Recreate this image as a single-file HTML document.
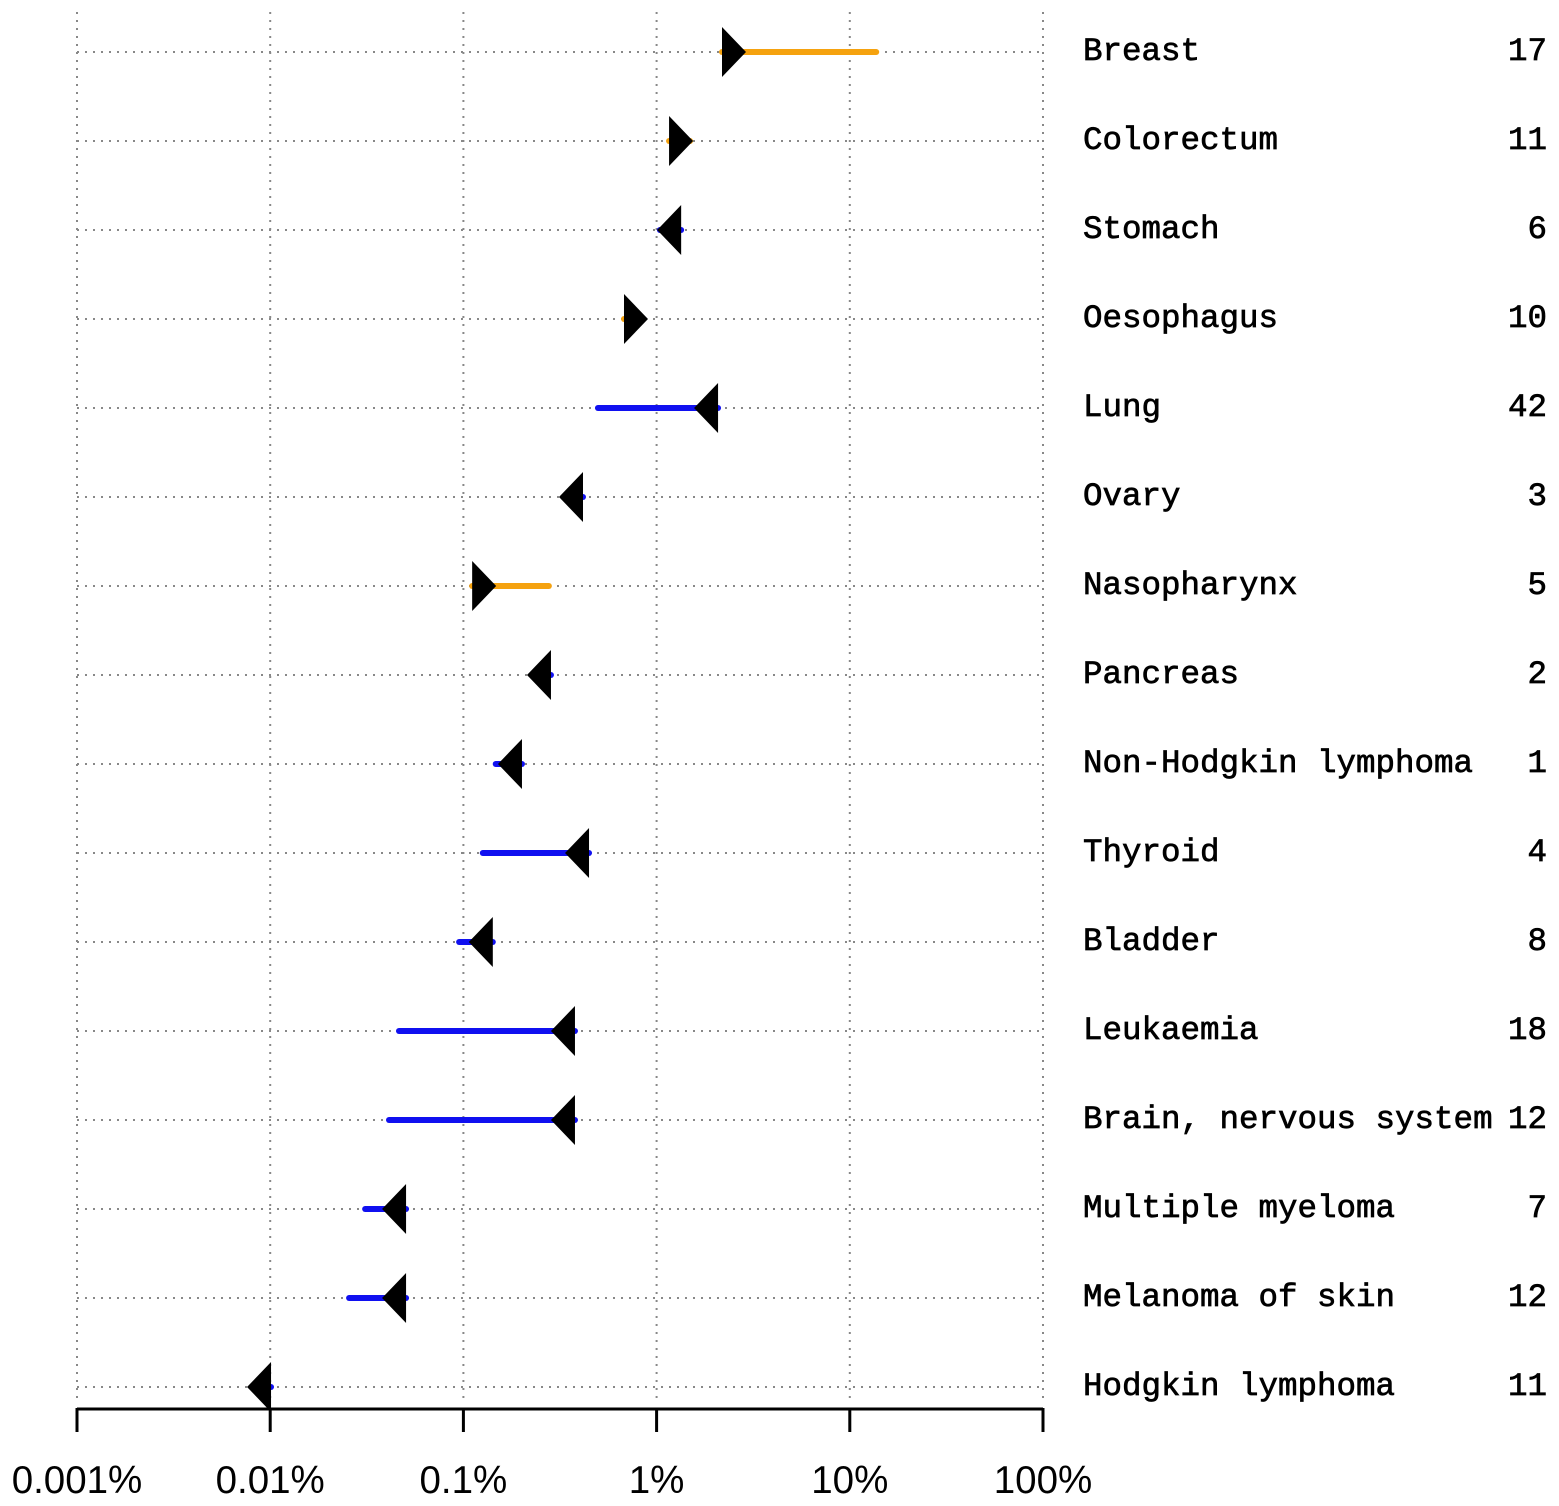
<!DOCTYPE html>
<html><head><meta charset="utf-8"><style>
html,body{margin:0;padding:0;background:#fff;}
svg{display:block;}
</style></head><body>
<svg id="chart" width="1559" height="1506" xmlns="http://www.w3.org/2000/svg"></svg>
<script>
const categories=["Breast","Colorectum","Stomach","Oesophagus","Lung","Ovary","Nasopharynx","Pancreas","Non-Hodgkin lymphoma","Thyroid","Bladder","Leukaemia","Brain, nervous system","Multiple myeloma","Melanoma of skin","Hodgkin lymphoma"];
const counts=["17","11","6","10","42","3","5","2","1","4","8","18","12","7","12","11"];
const markerValues=[2.18,1.16,1.34,0.678,2.08,0.416,0.111,0.284,0.201,0.447,0.142,0.378,0.378,0.0505,0.0505,0.0101];
const endValues=[13.7,1.49,1.04,0.82,0.497,0.356,0.277,0.249,0.147,0.126,0.095,0.0464,0.0412,0.031,0.0256,0.00886];
const tickValues=[0.001,0.01,0.1,1,10,100];
const tickLabels=["0.001%","0.01%","0.1%","1%","10%","100%"];

const NS="http://www.w3.org/2000/svg";
const svg=document.getElementById('chart');
const x0=77,dec=193.2;
function xs(v){return x0+(Math.log10(v)+3)*dec;}
function ys(i){return 52+i*89;}
function mk(tag,attrs,parent){const e=document.createElementNS(NS,tag);for(const k in attrs)e.setAttribute(k,attrs[k]);(parent||svg).appendChild(e);return e;}

tickValues.forEach((v,i)=>{
  const g=mk('line',{x1:xs(v),x2:xs(v),y1:12,y2:1400,stroke:'#888','stroke-width':2,'stroke-dasharray':'2,6'});
  
  
});
categories.forEach((c,i)=>{
  const y=ys(i);
  const g=mk('line',{x1:77,x2:1043,y1:y,y2:y,stroke:'#888','stroke-width':2,'stroke-dasharray':'2,6'});
  
  
  const a=xs(markerValues[i]),b=xs(endValues[i]);
  const up=endValues[i]>markerValues[i];
  const col=up?'#f5a20f':'#1010f0';
  const ln=mk('line',{x1:a,x2:b,y1:y,y2:y,stroke:col,'stroke-width':6,'stroke-linecap':'round'});
  
  
  const dir=up?1:-1;
  const tri=mk('polygon',{points:`${a},${y-25} ${a},${y+25} ${a+dir*24},${y}`,fill:'#000'});
  
  
  const t=mk('text',{x:1083,y:y+8,'font-family':'Liberation Mono, monospace','font-size':32.5,fill:'#000',stroke:'#000','stroke-width':0.7});
  t.textContent=c;
  
  
  const n=mk('text',{x:1547,y:y+8,'text-anchor':'end','font-family':'Liberation Mono, monospace','font-size':32.5,fill:'#000',stroke:'#000','stroke-width':0.7});
  n.textContent=counts[i];
  
  
});
const ax=mk('line',{x1:77,x2:1043,y1:1409,y2:1409,stroke:'#000','stroke-width':3});


tickValues.forEach((v,i)=>{
  const tk=mk('line',{x1:xs(v),x2:xs(v),y1:1408,y2:1432,stroke:'#000','stroke-width':3});
  
  
  const tl=mk('text',{x:xs(v),y:1493,'text-anchor':'middle','font-family':'Liberation Sans, sans-serif','font-size':38.5,fill:'#000'});
  tl.textContent=tickLabels[i];
  
  
});
</script>
</body></html>
